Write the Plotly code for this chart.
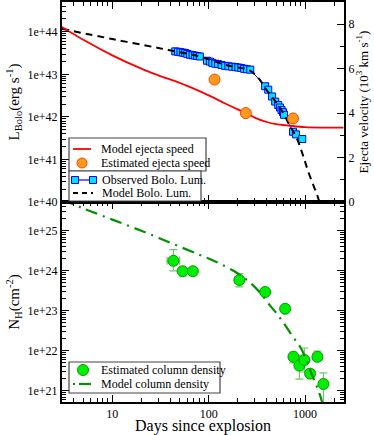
import plotly.graph_objects as go

# ---------------- data ----------------
# Model ejecta speed (10^3 km/s)
ej_model_days = [3, 5, 10, 20, 30, 50, 70, 100, 150, 200, 245, 300, 400, 500, 700, 1000, 1500, 2500]
ej_model_vel = [7.88, 7.3, 6.6, 6.0, 5.7, 5.36, 5.1, 4.8, 4.42, 4.17, 4.01, 3.8, 3.6, 3.5, 3.43, 3.37, 3.35, 3.35]

# Estimated ejecta speed
ej_est_days = [115, 243, 750]
ej_est_vel = [5.51, 4.0, 3.76]

# Observed bolometric luminosity (log10 erg/s)
obs_days = [45, 48, 51, 54, 57, 60, 64, 68, 72, 76, 81, 96, 103, 109, 117, 125, 136, 148, 160, 175, 190, 203, 218, 233, 250, 270,
            385, 415, 455, 490, 526, 550, 570, 590, 605, 750, 805, 935]
obs_logL = [43.54, 43.53, 43.52, 43.51, 43.50, 43.48, 43.46, 43.45, 43.44, 43.43, 43.42, 43.32, 43.30, 43.27, 43.25, 43.24, 43.22, 43.20, 43.19, 43.18, 43.17, 43.16, 43.15, 43.13, 43.12, 43.11,
            42.72, 42.64, 42.48, 42.36, 42.28, 42.22, 42.16, 42.11, 42.05, 41.65, 41.59, 41.48]

# Model bolometric luminosity (log10 erg/s)
mod_days = [3, 10, 30, 45, 80, 150, 200, 250, 280, 303, 340, 385, 450, 520, 592, 700, 820, 950, 1081, 1374, 1500]
mod_logL = [44.07, 43.83, 43.62, 43.54, 43.42, 43.22, 43.16, 43.12, 43.06, 42.99, 42.87, 42.68, 42.48, 42.29, 42.09, 41.78, 41.50, 41.10, 40.71, 40.08, 39.8]

# Estimated column density (log10 cm^-2) with errors (log10)
nh_days = [43, 53.6, 68.5, 208, 385, 621, 757, 873, 984, 1127, 1343, 1550]
nh_logN = [24.25, 23.99, 23.99, 23.77, 23.47, 23.05, 21.85, 21.63, 21.77, 21.43, 21.85, 21.17]
nh_log_hi = [24.53, 24.08, 23.99, 23.93, 23.47, 23.05, 21.97, 21.89, 22.07, 21.43, 21.99, 21.45]
nh_log_lo = [24.00, 23.87, 23.99, 23.60, 23.47, 23.05, 21.70, 21.29, 21.47, 21.43, 21.76, 20.60]
nh_day_hi = [50, 53.6, 68.5, 229, 385, 621, 832, 873, 984, 1250, 1490, 1550]
nh_day_lo = [37, 53.6, 68.5, 188, 385, 621, 687, 873, 984, 1042, 1210, 1550]

# Model column density (log10 cm^-2)
nhm_days = [3, 5, 10, 20, 40, 80, 120, 181, 240, 291, 350, 434, 520, 621, 750, 888, 1000, 1127, 1250, 1406, 1550]
nhm_logN = [25.78, 25.56, 25.28, 25.0, 24.7, 24.4, 24.22, 24.0, 23.8, 23.63, 23.42, 23.13, 22.9, 22.64, 22.35, 22.10, 21.85, 21.52, 21.25, 20.94, 20.6]

# Legend labels
legend_top = ["Model ejecta speed", "Estimated ejecta speed"]
legend_mid = ["Observed Bolo. Lum.", "Model Bolo. Lum."]
legend_bot = ["Estimated column density", "Model column density"]

# ---------------- figure ----------------
FONT = "Liberation Serif"
W, H = 374, 435
ML, MR, MT, MB = 62, 30, 2, 33
PW, PH = W - ML - MR, H - MT - MB

RED = "#ff0000"
ORANGE = "#ff9a1a"
ORANGE_EDGE = "#ff4400"
CYAN = "#00e5ff"
BLUE = "#0000ff"
GREEN = "#00ee00"
GREEN_EDGE = "#00a000"
DKGREEN = "#009000"
ERRC = "rgba(0,150,0,0.55)"
BOLO_DASH = "7px,5px"
NH_DASH = "12px,6px,2px,6px"

obs_L = [10 ** v for v in obs_logL]
mod_L = [10 ** v for v in mod_logL]
nh = [10 ** v for v in nh_logN]
nh_up = [10 ** h - 10 ** v for h, v in zip(nh_log_hi, nh_logN)]
nh_dn = [10 ** v - 10 ** l for l, v in zip(nh_log_lo, nh_logN)]
nh_xup = [h - d for h, d in zip(nh_day_hi, nh_days)]
nh_xdn = [d - l for l, d in zip(nh_day_lo, nh_days)]
nhm = [10 ** v for v in nhm_logN]

fig = go.Figure()

fig.add_trace(go.Scatter(x=ej_model_days, y=ej_model_vel, mode="lines", name=legend_top[0],
                         line=dict(color=RED, width=1.8, shape="spline"), xaxis="x2", yaxis="y2"))
fig.add_trace(go.Scatter(x=ej_est_days, y=ej_est_vel, mode="markers", name=legend_top[1],
                         marker=dict(color=ORANGE, size=11, line=dict(color=ORANGE_EDGE, width=1)),
                         xaxis="x2", yaxis="y2"))
fig.add_trace(go.Scatter(x=obs_days, y=obs_L, mode="lines+markers", name=legend_mid[0],
                         line=dict(color=BLUE, width=1),
                         marker=dict(symbol="square", color=CYAN, size=7, line=dict(color=BLUE, width=1)),
                         xaxis="x2", yaxis="y"))
fig.add_trace(go.Scatter(x=mod_days, y=mod_L, mode="lines", name=legend_mid[1],
                         line=dict(color="black", width=2, dash=BOLO_DASH, shape="spline"),
                         xaxis="x2", yaxis="y"))
fig.add_trace(go.Scatter(x=nh_days, y=nh, mode="markers", name=legend_bot[0],
                         marker=dict(color=GREEN, size=11, line=dict(color=GREEN_EDGE, width=1)),
                         error_y=dict(type="data", array=nh_up, arrayminus=nh_dn, color=ERRC, thickness=1.2, width=4),
                         error_x=dict(type="data", array=nh_xup, arrayminus=nh_xdn, color=ERRC, thickness=1.2, width=4),
                         xaxis="x", yaxis="y3"))
fig.add_trace(go.Scatter(x=nhm_days, y=nhm, mode="lines", name=legend_bot[1],
                         line=dict(color=DKGREEN, width=2.2, dash=NH_DASH, shape="spline"),
                         xaxis="x", yaxis="y3"))

axis_common = dict(showline=True, linecolor="black", linewidth=2, ticks="inside", tickcolor="black",
                   showgrid=False, zeroline=False, automargin=False,
                   tickfont=dict(family=FONT, size=12, color="black"))
xminor = [4, 5, 6, 7, 8, 9, 20, 30, 40, 50, 60, 70, 80, 90, 200, 300, 400, 500, 600, 700, 800, 900, 2000]
xr = [0.478, 3.404]
fig.update_layout(
    width=W, height=H, showlegend=False,
    margin=dict(l=ML, r=MR, t=MT, b=MB, autoexpand=False),
    paper_bgcolor="white", plot_bgcolor="white",
    font=dict(family=FONT, color="black", size=12),
    xaxis=dict(**axis_common, type="log", range=xr, domain=[0, 1], anchor="y3", mirror="ticks",
               ticklen=7, tickvals=[10, 100, 1000], ticktext=["10", "100", "1000"],
               minor=dict(ticks="inside", ticklen=4, tickcolor="black", tickvals=xminor),
               title=dict(text="Days since explosion", font=dict(family=FONT, size=16), standoff=1)),
    xaxis2=dict(**axis_common, type="log", range=xr, domain=[0, 1], anchor="y", matches="x", mirror="ticks",
                showticklabels=False, ticklen=7, tickvals=[10, 100, 1000],
                minor=dict(ticks="inside", ticklen=4, tickcolor="black", tickvals=xminor)),
    yaxis=dict(**axis_common, type="log", range=[40, 44.7], domain=[0.5, 1], anchor="x2",
               tickvals=[1e40, 1e41, 1e42, 1e43, 1e44], ticktext=["1e+40", "1e+41", "1e+42", "1e+43", "1e+44"],
               ticklen=7, minor=dict(ticks="inside", ticklen=4, tickcolor="black", dtick="D1"),
               title=dict(text="L<sub>Bolo</sub>(erg s<sup>-1</sup>)", font=dict(family=FONT, size=15), standoff=4)),
    yaxis2=dict(**axis_common, range=[0, 9], overlaying="y", side="right", anchor="x2",
                tickvals=[0, 2, 4, 6, 8], ticklen=7,
                minor=dict(ticks="inside", ticklen=4, tickcolor="black", dtick=1),
                title=dict(text="Ejecta velocity (10<sup>3</sup> km s<sup>-1</sup>)", font=dict(family=FONT, size=13), standoff=2)),
    yaxis3=dict(**axis_common, type="log", range=[20.72, 25.72], domain=[0, 0.5], anchor="x", mirror="ticks",
                tickvals=[1e21, 1e22, 1e23, 1e24, 1e25], ticktext=["1e+21", "1e+22", "1e+23", "1e+24", "1e+25"],
                ticklen=7, minor=dict(ticks="inside", ticklen=4, tickcolor="black", dtick="D1"),
                title=dict(text="N<sub>H</sub>(cm<sup>-2</sup>)", font=dict(family=FONT, size=15), standoff=4)),
)

# ---------------- hand-made legend boxes (pixel positions -> paper) ----------------
def px(x):
    return (x - ML) / PW


def py(y):
    return (H - MB - y) / PH


shapes = []
annots = []


def box(x0, y0, x1, y1):
    shapes.append(dict(type="rect", xref="paper", yref="paper", x0=px(x0), x1=px(x1), y0=py(y1), y1=py(y0),
                       line=dict(color="#444444", width=1.2), fillcolor="rgba(255,255,255,1)", layer="above", opacity=1))


def label(x, y, text):
    annots.append(dict(xref="paper", yref="paper", x=px(x), y=py(y), text=text, showarrow=False,
                       xanchor="left", yanchor="middle", font=dict(family=FONT, size=12, color="black")))


def seg(x0, x1, y, color, width, dash="solid"):
    shapes.append(dict(type="line", xref="paper", yref="paper", x0=px(x0), x1=px(x1), y0=py(y), y1=py(y),
                       line=dict(color=color, width=width, dash=dash), layer="above"))


def dot(x, y, r, fill, edge, kind="circle"):
    shapes.append(dict(type=kind, xref="paper", yref="paper", x0=px(x - r), x1=px(x + r), y0=py(y + r), y1=py(y - r),
                       fillcolor=fill, line=dict(color=edge, width=1), layer="above"))


# top legend
box(69, 138, 206, 171)
seg(73, 91, 149, RED, 1.8)
label(99, 149, legend_top[0])
dot(82, 163, 5, ORANGE, ORANGE_EDGE)
label(99, 163, legend_top[1])
# middle legend
box(69, 171, 201, 201)
seg(75, 93, 180, BLUE, 1.2)
dot(75, 180, 3.5, CYAN, BLUE, "rect")
dot(93, 180, 3.5, CYAN, BLUE, "rect")
label(100, 180, legend_mid[0])
seg(73, 93, 193, "black", 2, "5px,4px")
label(100, 193, legend_mid[1])
# bottom legend
box(69, 362, 220, 393)
dot(83, 370, 5.5, GREEN, GREEN_EDGE)
label(99, 370, legend_bot[0])
seg(73, 75, 384, DKGREEN, 2.2)
seg(79, 91, 384, DKGREEN, 2.2)
label(99, 384, legend_bot[1])

fig.update_layout(shapes=shapes, annotations=annots)

fig.write_html("out.html", config={"displayModeBar": False},
               post_script="document.body.style.margin='0';document.body.style.padding='0';")
